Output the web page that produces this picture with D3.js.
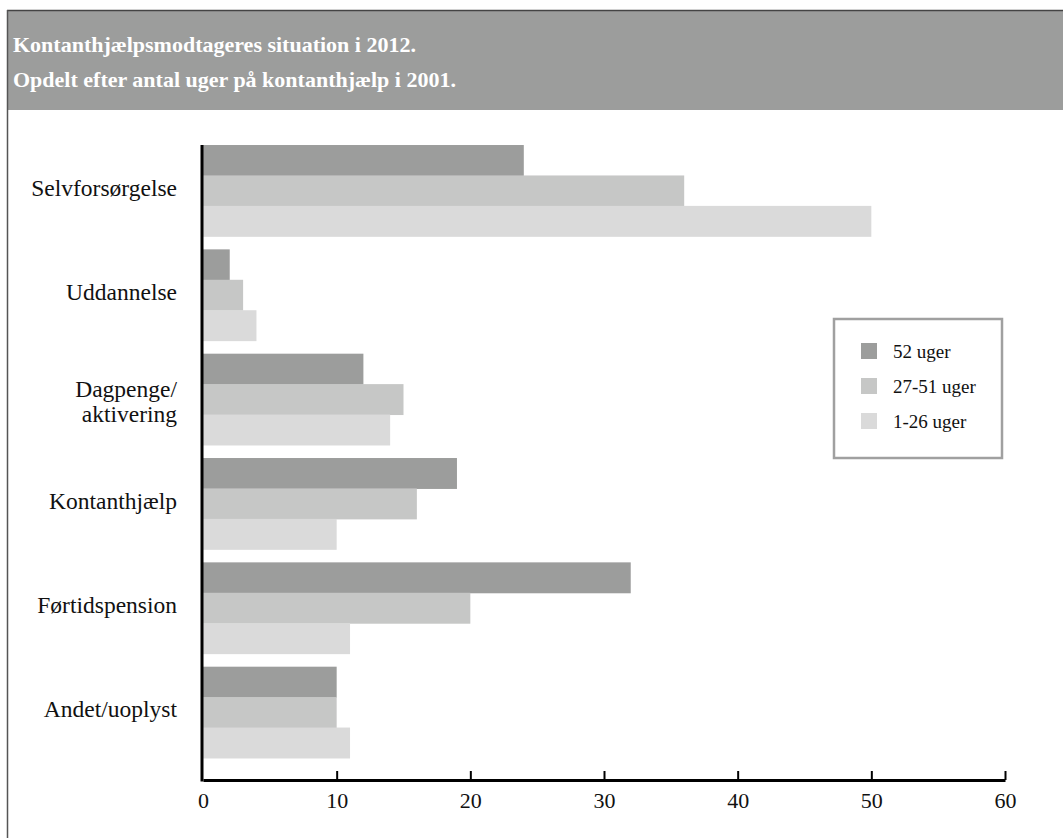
<!DOCTYPE html>
<html>
<head>
<meta charset="utf-8">
<script src="https://cdn.jsdelivr.net/npm/d3@7"></script>
<style>
  html, body { margin: 0; padding: 0; background: #fff; }
  svg { display: block; font-family: "Liberation Serif", "Times New Roman", serif; }
</style>
</head>
<body>
<svg id="chart" width="1063" height="838"></svg>
<script>
// Categories (top to bottom) and series
const categories = ["Selvforsørgelse", "Uddannelse", "Dagpenge/\naktivering", "Kontanthjælp", "Førtidspension", "Andet/uoplyst"];
const seriesNames = ["52 uger", "27-51 uger", "1-26 uger"];
const weeks52 = [24, 2, 12, 19, 32, 10];
const weeks27to51 = [36, 3, 15, 16, 20, 10];
const weeks1to26 = [50, 4, 14, 10, 11, 11];
const xTicks = [0, 10, 20, 30, 40, 50, 60];
const titleLines = ["Kontanthjælpsmodtageres situation i 2012.", "Opdelt efter antal uger på kontanthjælp i 2001."];

const seriesValues = [weeks52, weeks27to51, weeks1to26];
const colors = ["#9c9d9c", "#c6c7c6", "#dadada"];

const svg = d3.select("#chart");
const W = 1063, H = 838;

// Frame and header band
svg.append("rect").attr("x", 8).attr("y", 11).attr("width", W - 8).attr("height", 99).attr("fill", "#9c9d9c");
svg.append("line").attr("x1", 7).attr("x2", W).attr("y1", 10.5).attr("y2", 10.5).attr("stroke", "#444").attr("stroke-width", 1.5);
svg.append("line").attr("x1", 7.5).attr("x2", 7.5).attr("y1", 10).attr("y2", H).attr("stroke", "#555").attr("stroke-width", 1.5);

svg.append("g").selectAll("text").data(titleLines).join("text")
  .attr("x", 13).attr("y", (d, i) => 52 + i * 35)
  .attr("fill", "#fff").attr("font-weight", "bold").attr("font-size", 22)
  .text(d => d);

// Scales
const x = d3.scaleLinear().domain([0, 60]).range([203, 1005]);
const y = d3.scaleBand().domain(categories).range([138.5, 764.5]).paddingInner(0.125).paddingOuter(0.0625);
const ySub = d3.scaleBand().domain(d3.range(seriesNames.length)).range([0, y.bandwidth()]);

// Bars
const groups = svg.append("g").selectAll("g").data(categories).join("g")
  .attr("transform", d => `translate(0,${y(d)})`);
groups.selectAll("rect").data((c, ci) => seriesValues.map((vals, si) => ({ si, v: vals[ci] }))).join("rect")
  .attr("x", x(0)).attr("y", d => ySub(d.si))
  .attr("width", d => x(d.v) - x(0)).attr("height", ySub.bandwidth() + 0.5)
  .attr("fill", d => colors[d.si]);

// Category labels
const labels = svg.append("g").selectAll("text").data(categories).join("text")
  .attr("text-anchor", "end").attr("font-size", 23.5).attr("fill", "#111")
  .attr("transform", d => `translate(177,${y(d) + y.bandwidth() / 2})`);
labels.each(function (d) {
  const lines = d.split("\n");
  const t = d3.select(this);
  const base = lines.length === 1 ? 5 : -2.5;
  lines.forEach((ln, i) => {
    t.append("tspan").attr("x", 0).attr("y", base + i * 25).text(ln);
  });
});

// X axis
const axisY = 780;
const xAxis = d3.axisBottom(x).tickValues(xTicks).tickSizeInner(-9).tickSizeOuter(0).tickPadding(12).tickFormat(d3.format("d"));
const gx = svg.append("g").attr("transform", `translate(0,${axisY})`).call(xAxis);
gx.select(".domain").attr("stroke", "#000").attr("stroke-width", 3);
gx.selectAll(".tick line").attr("stroke", "#000").attr("stroke-width", 2);
gx.selectAll(".tick text").attr("font-size", 22).attr("fill", "#111").attr("font-family", "Liberation Serif, serif");
gx.selectAll(".tick").filter(d => d === 0).select("line").remove();

// Y axis line
svg.append("line").attr("x1", 202).attr("x2", 202).attr("y1", 145).attr("y2", axisY + 1.5)
  .attr("stroke", "#000").attr("stroke-width", 3);

// Legend
const lg = svg.append("g").attr("transform", "translate(834,319)");
lg.append("rect").attr("x", 0).attr("y", 0).attr("width", 168).attr("height", 139)
  .attr("fill", "#fff").attr("stroke", "#a0a0a0").attr("stroke-width", 2.5);
const items = lg.selectAll("g.item").data(seriesNames).join("g").attr("class", "item")
  .attr("transform", (d, i) => `translate(27,${24 + i * 35})`);
items.append("rect").attr("width", 16).attr("height", 16).attr("fill", (d, i) => colors[i]);
items.append("text").attr("x", 32).attr("y", 15).attr("font-size", 19).attr("fill", "#111").text(d => d);
</script>
</body>
</html>
